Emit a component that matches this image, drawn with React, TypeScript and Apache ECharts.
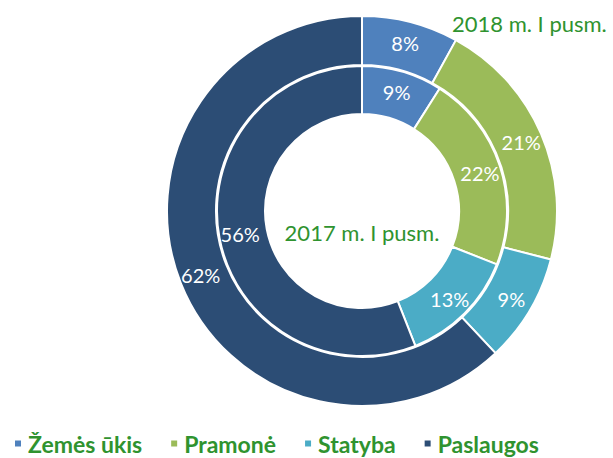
import React, { useEffect, useRef } from "react";
import * as echarts from "echarts";

const categories = ["Žemės ūkis", "Pramonė", "Statyba", "Paslaugos"];
const colors = ["#4F81BD", "#9BBB59", "#4BACC6", "#2C4D75"];
const values2018 = [8, 21, 9, 62];
const values2017 = [9, 22, 13, 56];
const title2018 = "2018 m. I pusm.";
const title2017 = "2017 m. I pusm.";

const FONT = "Lato, 'Liberation Sans', sans-serif";
const GREEN = "#2f932f";

export default function App() {
  const ref = useRef<HTMLDivElement>(null);
  useEffect(() => {
    if (!ref.current) return;
    const chart = echarts.init(ref.current, null, { renderer: "svg" });
    const mk = (vals: number[]) =>
      vals.map((v, i) => ({ name: categories[i], value: v, itemStyle: { color: colors[i] } }));
    const labelStyle = {
      show: true,
      position: "inside" as const,
      formatter: "{c}%",
      color: "#ffffff",
      fontSize: 20,
      fontFamily: FONT,
    };
    chart.setOption({
      animation: false,
      color: colors,
      legend: {
        data: categories,
        left: 8,
        top: 432,
        padding: [0, 5],
        icon: "rect",
        itemWidth: 8,
        itemHeight: 8,
        itemGap: 27,
        textStyle: {
          color: GREEN,
          fontSize: 23,
          fontWeight: "bold",
          fontFamily: FONT,
          lineHeight: 22,
          padding: [0, 0, 0, 1],
        },
        selectedMode: false,
      },
      graphic: [
        {
          type: "text",
          left: 452,
          top: 12,
          style: { text: title2018, fill: GREEN, font: `22px ${FONT}` },
        },
        {
          type: "text",
          x: 362,
          y: 232,
          style: {
            text: title2017,
            fill: GREEN,
            font: `22px ${FONT}`,
            align: "center",
            verticalAlign: "middle",
          },
        },
      ],
      series: [
        {
          type: "pie",
          name: "2018",
          center: [362, 211],
          radius: [146, 195],
          startAngle: 90,
          clockwise: true,
          label: labelStyle,
          labelLine: { show: false },
          itemStyle: { borderColor: "#ffffff", borderWidth: 2 },
          emphasis: { disabled: true },
          data: mk(values2018),
        },
        {
          type: "pie",
          name: "2017",
          center: [362, 211],
          radius: [97, 145],
          startAngle: 90,
          clockwise: true,
          label: labelStyle,
          labelLine: { show: false },
          itemStyle: { borderColor: "#ffffff", borderWidth: 2 },
          emphasis: { disabled: true },
          data: mk(values2017),
        },
      ],
    });
    return () => chart.dispose();
  }, []);
  return (
    <div
      ref={ref}
      style={{ position: "fixed", left: 0, top: 0, width: 613, height: 458, background: "#fff" }}
    />
  );
}
